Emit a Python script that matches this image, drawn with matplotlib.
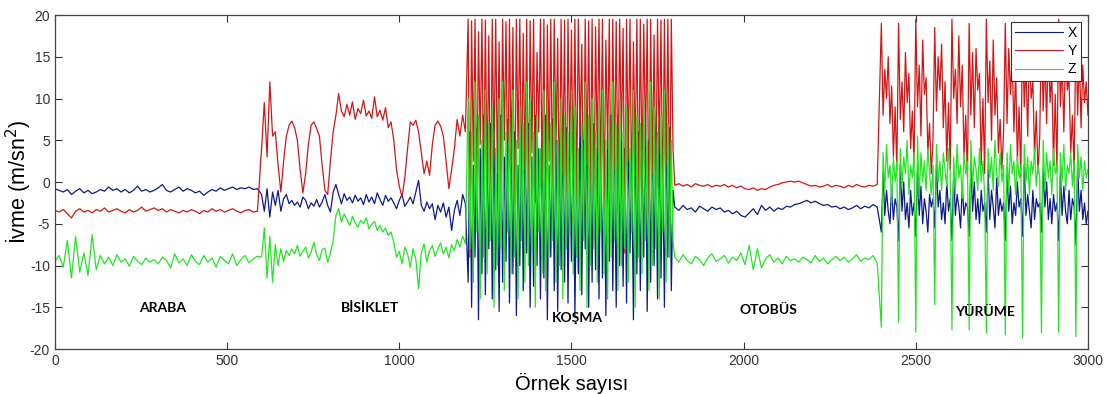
import numpy as np
import matplotlib
matplotlib.use("Agg")
import matplotlib.pyplot as plt

plt.rcParams["font.family"] = ["Liberation Sans", "DejaVu Sans"]
plt.rcParams["axes.unicode_minus"] = False

# örnek numaraları (segment başına okuma adımı)
ornek_araba = np.arange(0, 600, 12)
ornek_bisiklet = np.arange(600, 1200, 8)
ornek_kosma = np.arange(1200, 1800, 5)
ornek_otobus = np.arange(1800, 2400, 12)
ornek_yurume = np.arange(2400, 3001, 5)

# ARABA
x_araba = [-0.8, -1.0, -1.2, -0.9, -1.5, -1.1, -0.8, -1.3, -1.0, -1.4,
           -1.2, -0.9, -1.1, -0.6, -1.0, -0.8, -1.2, -0.9, -1.3, -1.0,
           -0.5, -1.1, -0.9, -1.2, -1.0, -0.7, -0.3, -1.0, -1.2, -0.9,
           -0.6, -1.1, -0.8, -1.0, -1.3, -1.1, -1.6, -1.2, -0.9, -1.1,
           -0.7, -1.0, -0.8, -0.6, -0.9, -0.7, -0.8, -0.6, -0.9, -0.8]
y_araba = [-3.4, -3.6, -3.3, -3.8, -4.3, -3.5, -3.2, -3.6, -3.4, -3.7,
           -3.3, -3.5, -3.1, -3.6, -3.4, -3.2, -3.5, -3.7, -3.3, -3.6,
           -3.4, -3.0, -3.5, -3.3, -3.1, -3.4, -3.2, -3.6, -3.3, -3.5,
           -3.7, -3.4, -3.6, -3.3, -3.5, -3.8, -3.4, -3.6, -3.2, -3.5,
           -3.3, -3.6, -3.4, -3.2, -3.5, -3.7, -3.4, -3.3, -3.6, -3.5]
z_araba = [-9.5, -8.8, -10.2, -7.0, -11.5, -6.5, -10.8, -8.5, -11.2, -6.3,
           -10.5, -8.8, -9.8, -9.0, -10.0, -8.7, -9.6, -9.2, -10.1, -8.9,
           -9.5, -9.9, -9.1, -9.6, -9.3, -9.8, -9.0, -9.4, -10.3, -8.6,
           -9.7, -9.2, -10.0, -8.7, -9.5, -9.9, -8.8, -9.6, -9.1, -10.2,
           -8.9, -9.4, -9.8, -8.6, -10.0, -9.3, -8.8, -9.7, -9.2, -8.9]

# BİSİKLET
x_bisiklet = [-1.5, -3.5, -0.8, -4.2, -1.2, -2.8, -1.0, -3.5, -2.0, -1.5,
              -2.6, -2.2, -2.8, -2.4, -3.0, -1.8, -2.2, -3.2, -2.5, -2.9,
              -2.1, -3.0, -2.4, -1.5, -2.8, -3.6, -1.2, -0.3, -1.5, -2.6,
              -1.4, -2.2, -1.8, -2.5, -1.6, -2.3, -1.9, -2.7, -1.5, -2.4,
              -1.8, -2.6, -1.3, -2.1, -2.8, -1.6, -2.3, -1.9, -2.5, -3.2,
              -2.2, -1.5, -2.9, -2.4, -1.8, -2.6, -1.2, 0.2, -2.8, -3.5,
              -2.4, -3.2, -2.6, -4.5, -2.8, -3.6, -2.5, -4.2, -3.0, -5.8,
              -3.4, -2.2, -4.0, -1.5, -2.6]
y_bisiklet = [4.0, 9.5, 3.0, 12.0, 5.5, 6.0, 2.0, -1.2, 2.5, 5.5,
              6.8, 7.3, 6.5, 5.0, 1.5, -1.3, 1.0, 4.5, 6.8, 7.2,
              6.4, 5.5, 2.0, -1.0, -1.5, 2.5, 6.0, 8.0, 10.6, 8.5,
              7.8, 9.3, 8.0, 9.6, 7.5, 8.8, 8.2, 9.8, 7.9, 8.5,
              7.6, 10.2, 7.8, 8.6, 7.4, 8.9, 6.5, 7.2, 5.0, 1.5,
              -0.5, -1.8, 0.5, 4.0, 7.2, 6.8, 7.4, 6.0, 3.5, 1.0,
              2.5, 0.8, 4.5, 6.8, 7.3, 6.7, 5.5, 2.5, -0.8, 1.5,
              4.0, 7.5, 5.5, 8.0, 6.0]
z_bisiklet = [-9.0, -5.5, -11.5, -6.5, -12.0, -7.5, -10.0, -8.0, -9.5, -8.2,
              -8.8, -8.0, -8.6, -7.6, -8.9, -8.3, -7.8, -9.1, -8.4, -7.2,
              -8.7, -9.4, -8.1, -7.9, -9.6, -8.5, -7.0, -4.0, -3.2, -4.8,
              -3.8, -4.5, -5.2, -4.1, -4.9, -5.4, -4.6, -5.0, -4.3, -5.6,
              -5.1, -4.7, -5.8, -5.2, -6.0, -5.5, -6.4, -6.0, -7.2, -9.0,
              -8.3, -9.8, -7.8, -8.6, -10.2, -8.0, -9.2, -12.8, -8.5, -7.4,
              -9.6, -8.2, -7.6, -8.9, -8.0, -7.3, -8.6, -7.8, -9.1, -7.5,
              -8.2, -6.9, -7.8, -6.5, -7.4]

# KOŞMA
x_kosma = [-12, 6, -15, 2, -9, 6.5, -16.5, 4, -11, 8,
           -13.5, 3, -8, 7, -14, 5, -10.5, 1, -15.5, 8,
           -12, 3, -9.5, 7.5, -14.5, 4, -11, 6, -16, 2,
           -10, 6.5, -13, 5, -8.5, 7, -15, 3, -12.5, 8,
           -10, 4, -14, 6, -11.5, 8, -16.5, 2, -9, 7.5,
           -13, 5, -15.5, 3, -10.5, 7, -12, 6.5, -14.5, 4,
           -9.5, 6, -16, 1, -11, 8, -13.5, 5, -8, 7.5,
           -15, 3, -12, 7, -10.5, 4, -14, 6.5, -11.5, 2,
           -16, 6, -9.5, 8, -13, 3, -15, 8, -10, 5,
           -12.5, 4, -14.5, 7, -8.5, 2, -16.5, 6.5, -11, 6,
           -13, 3, -9, 8, -15.5, 5, -12, 7.5, -10, 4,
           -14, 7, -11.5, 2, -15, 6, -9, 6.5, -13, -1]
y_kosma = [19.5, -9.0, 19.3, 2.5, 19.5, -3.0, 18.0, 4.5, 19.5, -1.5,
           19.4, 0.5, 17.5, -6.0, 19.5, 3.0, 19.5, 1.0, 16.8, -4.0,
           19.5, 5.0, 19.2, -2.0, 19.5, 2.0, 18.5, -7.5, 19.5, 4.0,
           19.5, -0.5, 17.8, 1.5, 19.5, -5.0, 19.3, 3.5, 19.5, -2.5,
           15.5, 6.0, 19.5, 0.0, 19.5, -8.0, 18.8, 2.5, 19.5, -1.0,
           19.5, 4.5, 17.2, -3.5, 19.5, 1.0, 19.4, -6.5, 19.5, 3.0,
           18.2, 0.5, 19.5, -2.0, 19.5, 5.5, 16.5, -4.5, 19.5, 2.0,
           19.3, -1.0, 19.5, -7.0, 18.6, 3.5, 19.5, 0.0, 19.5, -3.0,
           17.0, 4.0, 19.5, -5.5, 19.5, 1.5, 19.2, -1.5, 19.5, 5.0,
           18.4, -8.5, 19.5, 2.5, 19.5, -2.5, 16.8, 3.0, 19.5, -4.0,
           19.5, 0.5, 18.9, 4.5, 19.5, -6.0, 19.5, 1.0, 17.6, -1.0,
           19.5, 3.5, 19.4, -3.5, 19.5, 2.0, 19.5, -5.0, 19.5, 4.0]
z_kosma = [10, -8, 6, -12, 12, -6, 8, -14, 5, -9,
           11, -11, 7, -7, 9, -15, 4, -10, 10, -8,
           12, -13, 6, -6, 8, -11, 11, -9, 5, -14,
           9, -7, 7, -12, 12, -10, 10, -8, 6, -15,
           8, -6, 4, -11, 11, -13, 9, -9, 7, -7,
           12, -12, 5, -10, 10, -14, 8, -8, 6, -6,
           11, -11, 9, -9, 4, -13, 7, -7, 12, -15,
           8, -10, 10, -8, 6, -12, 9, -6, 11, -11,
           5, -14, 8, -9, 12, -7, 7, -13, 10, -10,
           6, -8, 9, -12, 4, -6, 11, -15, 8, -9,
           7, -11, 10, -7, 5, -13, 12, -10, 9, -8,
           6, -14, 8, -6, 11, -12, 7, -9, 5, -7]

# OTOBÜS
x_otobus = [-3.0, -3.4, -2.8, -3.3, -3.1, -3.6, -2.9, -3.2, -3.5, -3.0,
            -3.3, -3.1, -3.6, -3.4, -3.8, -3.5, -4.0, -4.2, -3.7, -3.2,
            -3.9, -2.8, -3.4, -3.0, -3.5, -3.1, -3.3, -2.9, -3.0, -2.7,
            -2.6, -2.4, -2.2, -2.5, -2.3, -2.6, -2.8, -2.7, -3.0, -2.9,
            -3.2, -3.0, -3.3, -3.1, -2.8, -3.2, -2.9, -3.1, -2.7, -3.0]
y_otobus = [-0.4, -0.2, -0.5, -0.3, -0.6, -0.2, -0.4, -0.5, -0.3, -0.6,
            -0.4, -0.5, -0.3, -0.6, -0.4, -0.7, -0.5, -0.8, -0.9, -0.7,
            -1.0, -0.8, -0.9, -0.6, -0.4, -0.3, -0.1, 0.0, 0.1, 0.0,
            0.1, -0.1, -0.3, -0.5, -0.4, -0.6, -0.5, -0.3, -0.6, -0.4,
            -0.5, -0.7, -0.4, -0.6, -0.3, -0.5, -0.6, -0.4, -0.5, -0.3]
z_otobus = [-9.0, -9.6, -8.7, -9.4, -9.8, -8.9, -9.3, -10.0, -9.1, -8.6,
            -9.5, -9.2, -8.8, -9.7, -9.0, -9.4, -8.5, -9.9, -7.6, -10.5,
            -8.0, -10.3, -9.2, -8.7, -9.6, -9.1, -9.8, -8.9, -9.4, -9.2,
            -9.6, -9.0, -9.3, -9.7, -8.8, -9.5, -9.1, -9.8, -9.3, -8.9,
            -9.4, -9.0, -9.6, -9.2, -8.7, -9.5, -9.1, -9.3, -8.8, -9.7]

# YÜRÜME
x_yurume = [-6.0, 1.0, -4.0, -1.0, -3.5, -5.0, -0.5, -4.5, -2.0, -3.0,
            -7.0, 2.0, -3.5, 0.0, -4.5, -2.5, -5.5, -1.0, -4.0, -2.5,
            -6.5, 1.5, -4.0, -0.5, -5.0, -2.0, -3.5, -6.0, -1.5, -3.0, -2.0,
            -5.5, 2.0, -3.0, -1.0, -4.5, -2.5, -5.0, 0.0, -3.5, -2.0,
            -7.0, 1.0, -4.0, -1.5, -3.0, -5.5, -0.5, -4.0, -2.5, -3.0,
            -6.5, 2.5, -3.5, 0.0, -4.5, -2.0, -5.0, -1.0, -3.5, -2.5,
            -6.0, 1.5, -4.5, -1.0, -3.0, -5.5, 0.5, -4.0, -2.0, -3.5, -2.5,
            -7.0, 1.0, -3.5, -0.5, -5.0, -2.5, -4.0, 0.0, -3.0, -2.0,
            -6.5, 2.0, -4.0, -1.5, -3.5, -5.5, -1.0, -4.5, -2.0, -3.0, -2.5,
            -6.0, 1.5, -3.0, 0.0, -4.5, -2.0, -5.0, -1.5, -3.5, -2.5,
            -7.0, 1.0, -4.0, -0.5, -3.5, -5.0, -1.0, -4.5, -2.0, -3.0,
            -7.5, 2.0, -3.5, -1.0, -4.5, -2.5, -5.0, -3.5]
y_yurume = [19.0, 8.0, 13.5, 10.0, 15.0, 7.0, 11.5, 3.0, 9.0, 1.5,
            19.0, 7.5, 12.0, 6.0, 15.5, 9.5, 13.0, 4.0, 8.5, 2.0,
            19.5, 9.0, 14.0, 5.5, 17.0, 10.5, 12.5, 3.5, 7.0, 1.0, 5.0,
            18.5, 8.5, 15.0, 11.0, 16.5, 6.5, 12.0, 2.5, 9.5, 1.5,
            19.5, 10.0, 13.5, 7.0, 17.5, 9.0, 14.0, 3.0, 8.0, 0.5,
            19.0, 8.0, 15.5, 6.5, 16.0, 11.0, 13.0, 2.0, 10.0, 1.0,
            19.5, 9.5, 14.5, 5.0, 17.0, 8.0, 12.5, 3.5, 7.5, 1.5, 6.0,
            19.0, 7.0, 16.0, 10.5, 15.0, 6.0, 13.5, 2.5, 9.0, 0.5,
            18.5, 9.0, 14.0, 5.5, 16.5, 10.0, 12.0, 3.0, 8.5, 1.0, 5.5,
            19.0, 8.5, 15.0, 7.0, 17.5, 9.5, 13.0, 2.0, 10.5, 1.5,
            19.5, 9.0, 14.5, 6.0, 16.0, 11.0, 12.5, 3.5, 8.0, 1.0,
            19.0, 8.0, 15.5, 6.5, 14.0, 9.5, 12.0, 8.0]
z_yurume = [-17.4, 3.5, -1.0, 4.5, 0.5, 2.0, -2.5, 3.0, 0.0, 2.5,
            -16.8, 4.0, -0.5, 3.0, 1.0, 5.0, -1.5, 2.0, 0.5, 3.5,
            -18.0, 5.5, -2.0, 3.5, 0.0, 2.5, -1.0, 4.0, 1.0, -1.5, 2.0,
            -14.7, 4.5, 0.0, 2.5, -1.0, 3.5, 1.5, -0.5, 4.0, 1.0,
            -17.7, 3.0, -1.5, 4.5, 0.5, 2.0, -2.0, 3.5, 1.0, 2.5,
            -17.7, 5.0, -0.5, 3.0, 1.5, -1.0, 4.0, 0.0, 2.5, -1.5,
            -18.1, 4.0, 0.5, 3.0, -1.0, 5.0, 1.0, -0.5, 3.5, 0.0, 2.0,
            -18.3, 3.5, -1.0, 4.5, 1.0, 2.5, -1.5, 3.0, 0.5, 2.0,
            -18.7, 4.5, 0.0, 3.0, -1.5, 2.5, 1.0, 4.0, -0.5, 2.0, 0.5,
            -18.1, 5.0, -1.0, 3.5, 0.5, 2.5, -1.5, 4.0, 1.0, 2.0,
            -18.0, 3.5, 0.0, 4.5, -1.0, 2.0, 1.0, 3.5, -0.5, 2.5,
            -18.5, 4.5, 0.5, 3.0, -1.0, 2.5, 0.5, 1.5]

etiketler = ["ARABA", "BİSİKLET", "KOŞMA", "OTOBÜS", "YÜRÜME"]
etiket_x = [314, 915, 1516, 2071, 2701]
etiket_y = [-15.1, -15.1, -16.3, -15.3, -15.6]

ornek = np.concatenate([ornek_araba, ornek_bisiklet, ornek_kosma, ornek_otobus, ornek_yurume])
ivme_x = np.concatenate([x_araba, x_bisiklet, x_kosma, x_otobus, x_yurume])
ivme_y = np.concatenate([y_araba, y_bisiklet, y_kosma, y_otobus, y_yurume])
ivme_z = np.concatenate([z_araba, z_bisiklet, z_kosma, z_otobus, z_yurume])

fig = plt.figure(figsize=(11.08, 3.94), dpi=100)
ax = fig.add_axes([0.0496, 0.1142, 0.9323, 0.8477])

ax.plot(ornek, ivme_x, color="#0d1a8f", lw=0.9, label="X")
ax.plot(ornek, ivme_y, color="#d41515", lw=0.9, label="Y")
ax.plot(ornek, ivme_z, color="#22e622", lw=0.9, label="Z")

for t, tx, ty in zip(etiketler, etiket_x, etiket_y):
    ax.text(tx, ty, t, ha="center", va="center", fontsize=10, fontweight="bold",
            family=["Lato", "DejaVu Sans"])

ax.set_xlim(0, 3000)
ax.set_ylim(-20, 20)
ax.set_xticks(range(0, 3001, 500))
ax.set_yticks(range(-20, 21, 5))
ax.tick_params(direction="in", length=5, top=True, right=True, labelsize=10,
               colors="#333333", labelcolor="#333333")
for s in ax.spines.values():
    s.set_color("#444444")
    s.set_linewidth(0.9)

ax.set_xlabel("Örnek sayısı", fontsize=14.5, labelpad=4)
ax.set_ylabel("İvme (m/sn$^2$)", fontsize=15.5)
ax.yaxis.set_label_coords(-0.021, 0.5)

leg = ax.legend(loc="upper right", fontsize=10, handlelength=3.5, fancybox=False,
                framealpha=1, edgecolor="#333333", borderaxespad=0.5,
                labelspacing=0.3, handletextpad=0.3, borderpad=0.3)
leg.get_frame().set_linewidth(0.8)
for h in leg.get_lines():
    h.set_linewidth(0.8)

fig.savefig("out.png", dpi=100)
